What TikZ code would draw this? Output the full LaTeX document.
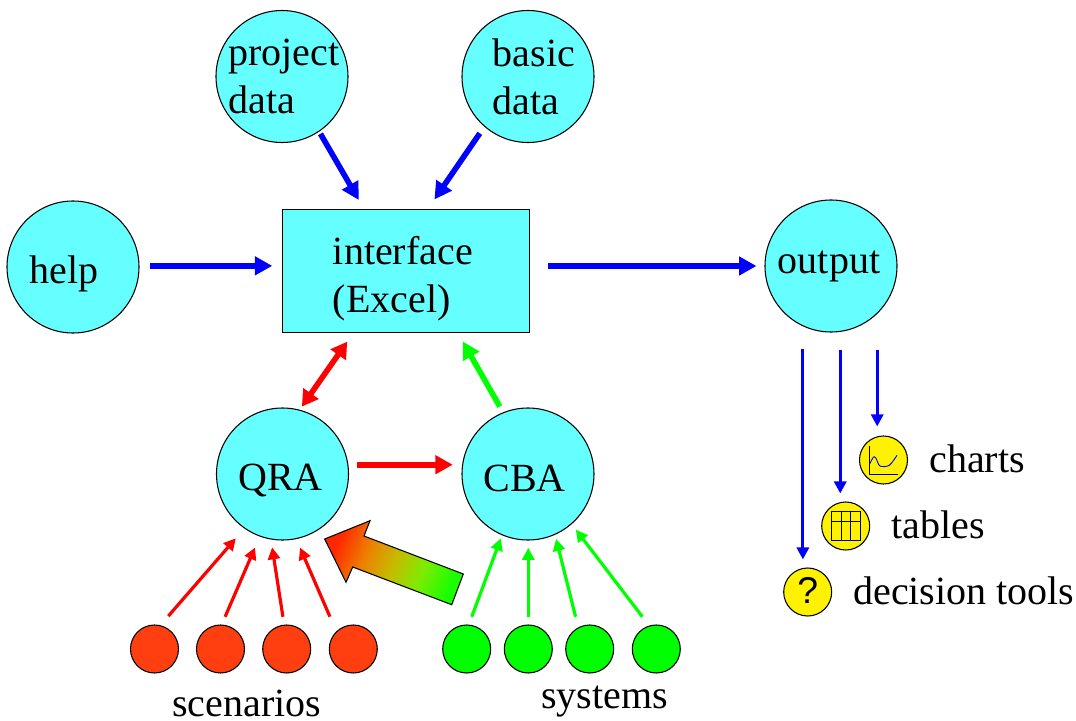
\documentclass[tikz,border=0pt]{standalone}
\usepackage{fontspec}
\setmainfont{Liberation Serif}
\usetikzlibrary{arrows.meta}
\definecolor{bubblecyan}{HTML}{66FFFF}
\definecolor{scenred}{HTML}{FF3F0F}
\pgfdeclarehorizontalshading{greenred}{100bp}{rgb(0bp)=(0.1,1,0);rgb(25bp)=(0.1,1,0);rgb(38bp)=(0.5,0.92,0);rgb(50bp)=(0.78,0.73,0);rgb(62bp)=(0.93,0.5,0);rgb(75bp)=(1,0.15,0);rgb(100bp)=(1,0.15,0)}
\def\px{0.75pt}
\tikzset{
  bubble/.style={circle,draw=black,fill=bubblecyan,line width=0.8pt,minimum size=132*\px,inner sep=-12pt,align=left,font=\fontsize{30}{36}\selectfont},
  scendot/.style={circle,draw=black,fill=scenred,line width=0.8pt,minimum size=48*\px,inner sep=0pt},
  sysdot/.style={circle,draw=black,fill=green,line width=0.8pt,minimum size=48*\px,inner sep=0pt},
  tooldot/.style={circle,draw=black,fill=yellow,line width=0.8pt,minimum size=48*\px,inner sep=0pt},
  caption/.style={anchor=base west,inner sep=0pt,font=\fontsize{30}{36}\selectfont},
  bigarrow/.style={line width=4.2pt,-{Triangle[length=13pt,width=13.5pt]}},
  smallarrow/.style={line width=2.4pt,-{Triangle[length=9pt,width=9pt]}},
}
\begin{document}
\begin{tikzpicture}[x=\px,y=-\px]
    \useasboundingbox (0,0) rectangle (1076,721);

    \node[bubble] (project) at (282,76.5) {project\kern-3pt\\data};
    \node[bubble] (basic) at (528,76.5) {basic\kern-9pt\\data};
    \node[bubble] (help) at (73,267) {\kern-13.5pt\raisebox{-5.25pt}[\height][\depth]{help}};
    \node[bubble] (output) at (831,266) {\kern-3pt output};
    \node[bubble] (QRA) at (282.5,474) {\kern-3pt\raisebox{-4.5pt}[\height][\depth]{QRA}};
    \node[bubble] (CBA) at (528,474) {\kern-5pt\raisebox{-3pt}[\height][\depth]{CBA}};
    \node[rectangle,draw=black,fill=bubblecyan,line width=0.8pt,minimum width=247*\px,minimum height=123*\px,inner sep=0pt,align=left,font=\fontsize{30}{36}\selectfont] (interface) at (405.6,270.6) {\rule{0pt}{33pt}\kern-4pt interface\\\kern-4pt (Excel)};

    % inputs
    \draw[bigarrow,blue,shorten <=2.5*\px,shorten >=10*\px] (project.-56) -- (interface.124);
    \draw[bigarrow,blue,shorten <=8*\px,shorten >=11*\px] (basic.229.3) -- (interface.70.6);
    \draw[bigarrow,blue,shorten <=10*\px,shorten >=9.3*\px] (help.1) -- (help.1 -| interface.west);
    \draw[bigarrow,blue,shorten <=18*\px,shorten >=8*\px] (interface.east |- output.west) -- (output.west);

    % links between the models
    \draw[line width=4.2pt,{Triangle[length=12pt,width=13.5pt]}-{Triangle[length=12pt,width=13.5pt]},red,shorten <=3.8*\px,shorten >=11*\px] (QRA.75.5) -- (interface.230.8);
    \draw[bigarrow,green,shorten <=6.7*\px,shorten >=10*\px] (CBA.112) -- (interface.-50.3);
    \draw[bigarrow,red,shorten <=9*\px,shorten >=8.7*\px] (QRA.8.5) -- (QRA.8.5 -| CBA.west);

    % scenarios
    \node[scendot] (scen1) at (154.5,649) {};
    \node[scendot] (scen2) at (220.5,649) {};
    \node[scendot] (scen3) at (286.7,649) {};
    \node[scendot] (scen4) at (353.3,649) {};
    \draw[smallarrow,red,shorten <=12*\px,shorten >=13*\px] (scen1.76) -- (QRA.235.2);
    \draw[smallarrow,red,shorten <=8.4*\px,shorten >=11.9*\px] (scen2.87.4) -- (QRA.250.3);
    \draw[smallarrow,red,shorten <=7.9*\px,shorten >=7.9*\px] (scen3.96.9) -- (QRA.260.9);
    \draw[smallarrow,red,shorten <=16*\px,shorten >=9.3*\px] (scen4.134.8) -- (QRA.282.5);
    \node[caption] (scenarios) at (172,716.5) {scenarios};

    % systems
    \node[sysdot] (sys1) at (466.7,649) {};
    \node[sysdot] (sys2) at (528.3,649) {};
    \node[sysdot] (sys3) at (589.7,649) {};
    \node[sysdot] (sys4) at (656.3,649) {};
    \draw[smallarrow,green,shorten <=8.3*\px,shorten >=3.4*\px] (sys1.85.2) -- (CBA.247.3);
    \draw[smallarrow,green,shorten <=7.7*\px,shorten >=7.3*\px] (sys2.north) -- (sys2.north |- CBA.south);
    \draw[smallarrow,green,shorten <=10.9*\px,shorten >=4.2*\px] (sys3.118.4) -- (CBA.294.8);
    \draw[smallarrow,green,shorten <=11.1*\px,shorten >=6.8*\px] (sys4.107.5) -- (CBA.311.3);
    \node[caption] (systems) at (541,708) {systems};

    % big arrow from CBA to QRA
    \shade[draw=black,line width=0.8pt,shading=greenred,shading angle=157]
    (324.7,539) -- (370,520.7) -- (364,536) -- (463.3,574) -- (451.7,604.7) -- (352.7,567) -- (346,582.3) -- cycle;

    % output side
    \node[tooldot] (charts) at (883.5,460) {};
    \node[tooldot] (tables) at (845.7,526) {};
    \node[tooldot,font=\fontsize{28}{28}\fontspec{Liberation Sans}\selectfont] (decision) at (807.7,592) {\raisebox{1.5pt}[\height][\depth]{?}};
    \draw[smallarrow,blue,shorten <=36*\px,shorten >=9*\px] (output.314.6) -- (output.314.6 |- charts.north);
    \draw[smallarrow,blue,shorten <=17.7*\px,shorten >=8*\px] (output.278.3) -- (output.278.3 |- tables.north);
    \draw[smallarrow,blue,shorten <=23*\px,shorten >=8*\px] (output.245.3) -- (output.245.3 |- decision.north);
    \node[caption] (chartstext) at (929,472) {charts};
    \node[caption] (tablestext) at (891,538) {tables};
    \node[caption] (decisiontext) at (853,604) {decision tools};

    \draw[line width=0.7pt] (869.7,445.7) -- (869.7,474.3) -- (897.7,474.3); % chart axes
    \draw[blue,line width=0.7pt] plot[smooth] coordinates {(869.7,464) (873.5,457) (876,458.3) (880,466) (889.3,465.3) (897,455.3)};
    \draw[line width=0.7pt] (831.7,511.7) rectangle (860,540); % table grid
    \draw[line width=0.7pt] (831.7,521) -- (860,521) (841,511.7) -- (841,540) (850.3,511.7) -- (850.3,540);
\end{tikzpicture}
\end{document}
